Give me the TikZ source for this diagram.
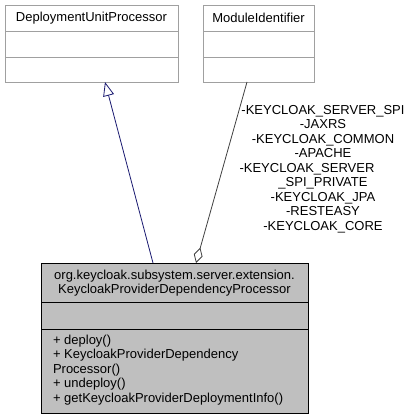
\documentclass[tikz,border=0pt]{standalone}
\usepackage{fontspec}
\setmainfont{Liberation Sans}
\usetikzlibrary{arrows.meta}

\definecolor{boxgray}{RGB}{160,160,160}
\definecolor{classfill}{RGB}{191,191,191}
\definecolor{genblue}{RGB}{25,25,112}
\definecolor{aggray}{RGB}{64,64,64}

\begin{document}
\begin{tikzpicture}[x=1pt,y=-1pt,
  every node/.style={font=\fontsize{13}{14.5}\selectfont, inner sep=0pt, outer sep=0pt},
  basebox/.style={draw=boxgray, fill=white, line width=0.9pt, minimum width=#1, minimum height=77pt},
  mainbox/.style={draw=black, fill=classfill, line width=0.9pt, minimum width=267pt, minimum height=150pt}]
\useasboundingbox (0,0) rectangle (415,419);

\node[basebox=173pt] (dup) at (91.5,43.5) {};
\node (duptitle) at (91.5,18) {DeploymentUnitProcessor};
\draw[boxgray, line width=0.9pt] ([yshift=-26pt]dup.north west) -- ([yshift=-26pt]dup.north east);
\draw[boxgray, line width=0.9pt] ([yshift=-52pt]dup.north west) -- ([yshift=-52pt]dup.north east);

\node[basebox=111pt] (mid) at (258.5,43.5) {};
\node (midtitle) at (258.5,18) {ModuleIdentifier};
\draw[boxgray, line width=0.9pt] ([yshift=-26pt]mid.north west) -- ([yshift=-26pt]mid.north east);
\draw[boxgray, line width=0.9pt] ([yshift=-52pt]mid.north west) -- ([yshift=-52pt]mid.north east);

\node[mainbox] (kpdp) at (174.5,338) {};
\node[align=center] (kpdptitle) at (174.5,283) {org.keycloak.subsystem.server.extension.\\KeycloakProviderDependencyProcessor};
\draw[line width=0.9pt] ([yshift=-39pt]kpdp.north west) -- ([yshift=-39pt]kpdp.north east);
\draw[line width=0.9pt] ([yshift=-66pt]kpdp.north west) -- ([yshift=-66pt]kpdp.north east);
\node[align=left, anchor=north west] (kpdpops) at (53,335) {+ deploy()\\+ KeycloakProviderDependency\\Processor()\\+ undeploy()\\+ getKeycloakProviderDeploymentInfo()};

% inheritance and usage
\draw[genblue, line width=0.8pt, -{Triangle[open,length=14pt,width=11pt]}]
  ([xshift=112pt]kpdp.north west) -- ([xshift=100pt]dup.south west);
\draw[aggray, line width=0.8pt, {Diamond[open,length=16pt,width=9pt]}-]
  ([xshift=155pt]kpdp.north west) -- ([xshift=44pt]mid.south west);
\node[align=center, anchor=north] (modlabel) at (323,105) {-KEYCLOAK\_SERVER\_SPI\\-JAXRS\\-KEYCLOAK\_COMMON\\-APACHE\\-KEYCLOAK\_SERVER\hbox to 32pt{}\\\_SPI\_PRIVATE\\-KEYCLOAK\_JPA\\-RESTEASY\\-KEYCLOAK\_CORE};
\end{tikzpicture}
\end{document}
